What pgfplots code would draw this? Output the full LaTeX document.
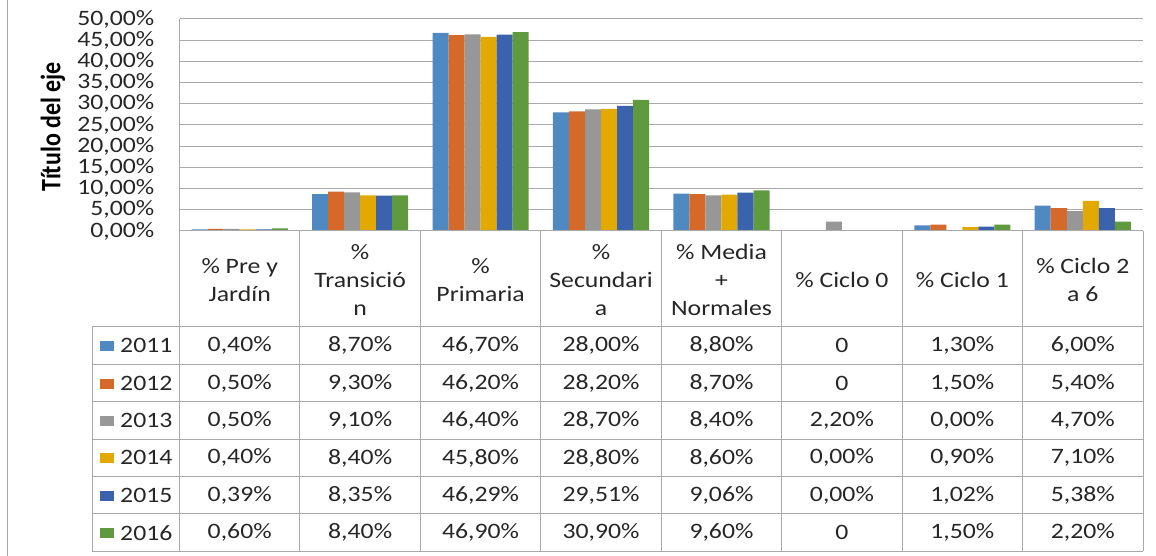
\documentclass[border=0pt]{standalone}
\usepackage{pgfplots}
\pgfplotsset{compat=1.18}
\usepackage{fontspec}
\setmainfont{Carlito}[FakeStretch=1.17]
\newfontfamily\titlefont{Carlito}
\definecolor{c2011}{HTML}{4E8AC1}
\definecolor{c2012}{HTML}{D4692A}
\definecolor{c2013}{HTML}{979797}
\definecolor{c2014}{HTML}{E2AA00}
\definecolor{c2015}{HTML}{3B63AD}
\definecolor{c2016}{HTML}{5F9A3F}
\definecolor{gridc}{HTML}{A9A9A9}
\definecolor{txt}{HTML}{262626}
\newcommand{\tf}{\fontsize{22}{28}\selectfont}
\def\xl{179.5}\def\cw{120.44}\def\rh{37.4}
% one row of the data table: index, year, colour, values
\newcommand{\trow}[4]{%
  \pgfmathsetmacro{\yc}{327+(#1+0.5)*\rh}
  \fill[#3] (99.5,\yc-4.5) rectangle (114,\yc+5.5);
  \node[font=\tf, text=txt, anchor=west, inner sep=0pt] at (120,\yc) {#2};
  \foreach \v [count=\c from 0] in {#4} {
    \node[font=\tf, text=txt, inner sep=0pt] at (\xl+\c*\cw+0.5*\cw,\yc) {\v};
  }
}

\begin{document}
\begin{tikzpicture}
\begin{axis}[
    at={(179.5pt,325pt)}, anchor=south west,
    scale only axis, width=963.5pt, height=212pt,
    xmin=-0.5, xmax=7.5, ymin=0, ymax=50,
    ybar=0pt, bar width=0.133,
    axis x line=none, axis y line*=left,
    axis line style={gridc, line width=1pt},
    ymajorgrids, grid style={gridc, line width=1pt},
    major tick length=0pt,
    xtick=\empty,
    ytick={0,5,...,50},
    yticklabels={{0,00\%},{5,00\%},{10,00\%},{15,00\%},{20,00\%},{25,00\%},{30,00\%},{35,00\%},{40,00\%},{45,00\%},{50,00\%}},
    yticklabel style={font=\tf, text=txt, inner sep=0pt, anchor=east, xshift=-25pt},
    every axis plot/.append style={draw=none},
]
% 2011
\addplot[fill=c2011] coordinates {(0,0.40) (1,8.70) (2,46.70) (3,28.00) (4,8.80) (5,0) (6,1.30) (7,6.00)};
% 2012
\addplot[fill=c2012] coordinates {(0,0.50) (1,9.30) (2,46.20) (3,28.20) (4,8.70) (5,0) (6,1.50) (7,5.40)};
% 2013
\addplot[fill=c2013] coordinates {(0,0.50) (1,9.10) (2,46.40) (3,28.70) (4,8.40) (5,2.20) (6,0.00) (7,4.70)};
% 2014
\addplot[fill=c2014] coordinates {(0,0.40) (1,8.40) (2,45.80) (3,28.80) (4,8.60) (5,0.00) (6,0.90) (7,7.10)};
% 2015
\addplot[fill=c2015] coordinates {(0,0.39) (1,8.35) (2,46.29) (3,29.51) (4,9.06) (5,0.00) (6,1.02) (7,5.38)};
% 2016
\addplot[fill=c2016] coordinates {(0,0.60) (1,8.40) (2,46.90) (3,30.90) (4,9.60) (5,0) (6,1.50) (7,2.20)};
\end{axis}

% data table and frame, in image pixel coordinates (y down)
\begin{scope}[x=1pt, y=-1pt, shift={(0pt,556pt)}]
\useasboundingbox (0,0) rectangle (1156,556);
\draw[gridc, line width=1pt] (7.5,0) -- (7.5,556);
\draw[gridc, line width=1pt] (\xl,231) -- (1143,231);
\foreach \r in {0,...,6} {
  \draw[gridc, line width=1pt] (92,327+\r*\rh) -- (1143,327+\r*\rh);
}
\draw[gridc, line width=1pt] (92,327) -- (92,551.4);
\foreach \i in {0,...,8} {
  \draw[gridc, line width=1pt] (\xl+\i*\cw,231) -- (\xl+\i*\cw,551.4);
}
\node[rotate=90, yscale=1.17, font=\titlefont\bfseries\fontsize{24}{28}\selectfont, text=black] at (53,127) {Título del eje};
% header
\tikzset{hd/.style={font=\tf, text=txt, align=center, inner sep=0pt}}
\node[hd] at (\xl+0.5*\cw,280) {\% Pre y\\Jardín};
\node[hd] at (\xl+1.5*\cw,280) {\%\\Transició\\n};
\node[hd] at (\xl+2.5*\cw,280) {\%\\Primaria};
\node[hd] at (\xl+3.5*\cw,280) {\%\\Secundari\\a};
\node[hd] at (\xl+4.5*\cw,280) {\% Media\\+\\Normales};
\node[hd] at (\xl+5.5*\cw,280) {\% Ciclo 0};
\node[hd] at (\xl+6.5*\cw,280) {\% Ciclo 1};
\node[hd] at (\xl+7.5*\cw,280) {\% Ciclo 2\\a 6};
% rows
\trow{0}{2011}{c2011}{{0,40\%},{8,70\%},{46,70\%},{28,00\%},{8,80\%},{0},{1,30\%},{6,00\%}}
\trow{1}{2012}{c2012}{{0,50\%},{9,30\%},{46,20\%},{28,20\%},{8,70\%},{0},{1,50\%},{5,40\%}}
\trow{2}{2013}{c2013}{{0,50\%},{9,10\%},{46,40\%},{28,70\%},{8,40\%},{2,20\%},{0,00\%},{4,70\%}}
\trow{3}{2014}{c2014}{{0,40\%},{8,40\%},{45,80\%},{28,80\%},{8,60\%},{0,00\%},{0,90\%},{7,10\%}}
\trow{4}{2015}{c2015}{{0,39\%},{8,35\%},{46,29\%},{29,51\%},{9,06\%},{0,00\%},{1,02\%},{5,38\%}}
\trow{5}{2016}{c2016}{{0,60\%},{8,40\%},{46,90\%},{30,90\%},{9,60\%},{0},{1,50\%},{2,20\%}}
\end{scope}
\end{tikzpicture}
\end{document}
